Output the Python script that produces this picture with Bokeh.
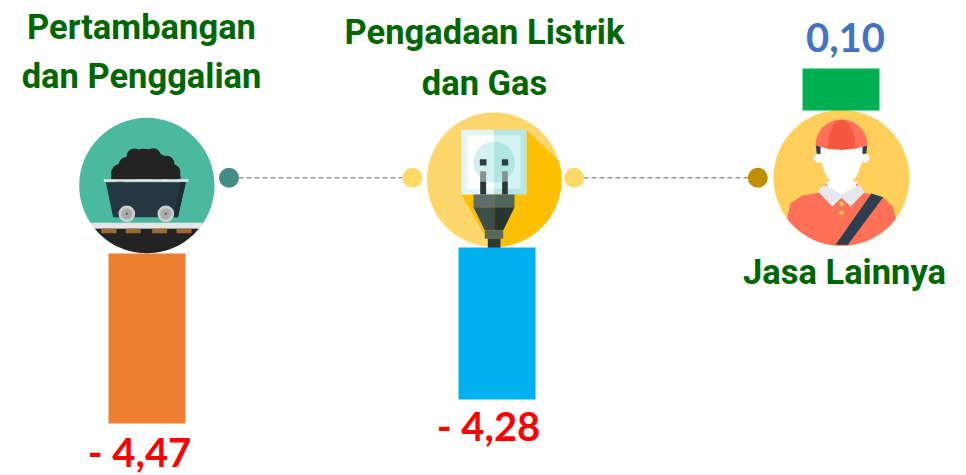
from bokeh.plotting import figure
from bokeh.models import Range1d
from bokeh.core.properties import value
from bokeh.embed import file_html
from bokeh.resources import INLINE
import numpy as np

# ---- chart values
sector_lines = [["Pertambangan", "dan Penggalian"], ["Pengadaan Listrik", "dan Gas"], ["Jasa Lainnya"]]
value_labels = ["- 4,47", "- 4,28", "0,10"]
bar_lengths = [170, 152, 42]

# ---- layout (page pixels)
bar_left = [108, 458, 802]
bar_start = [253, 247, 68]
bar_colors = ["#ED7D31", "#00B0F0", "#00B050"]
W, H = 966, 475
OX, OY = 0, 0

p = figure(width=W, height=H, output_backend="svg", toolbar_location=None,
           x_range=Range1d(OX, OX + W), y_range=Range1d(OY + H, OY),
           min_border=0, min_border_left=0, min_border_right=0, min_border_top=0, min_border_bottom=0)
p.axis.visible = False
p.grid.visible = False
p.outline_line_color = None
p.background_fill_color = "white"
p.border_fill_color = "white"


def mapper(ox, oy):
    return lambda pts: ([ox + a / 3 for a, b in pts], [oy + b / 3 for a, b in pts])


def poly(m, pts, color):
    xs, ys = m(pts)
    p.patch(xs, ys, fill_color=color, line_color=None)


def disc(x, y, r, color):
    p.circle([x], [y], radius=r, fill_color=color, line_color=None)


def arc(cx, cy, r, a0, a1, n=60):
    t = np.radians(np.linspace(a0, a1, n))
    return [(cx + r * np.cos(v), cy + r * np.sin(v)) for v in t]


# connectors
for x0, x1 in [(238, 402), (583, 748)]:
    p.line([x0, x1], [177.3, 177.3], line_color="#707070", line_width=1, line_dash="5 3")
for x, c in [(228.5, "#458D84"), (412, "#FFD966"), (573.7, "#FFD966"), (757.3, "#BF8F00")]:
    disc(x, 177.3, 10, c)

# ---- icon 1: mine cart (zoom coordinates around 60,100)
m1 = mapper(60, 100)
cx, cy, r = 259, 255, 203
disc(60 + cx / 3, 100 + cy / 3, r / 3, "#4BB9A0")


def chord(y0, y1):
    a0 = np.degrees(np.arcsin((y0 - cy) / r))
    a1 = np.degrees(np.arcsin((y1 - cy) / r))
    return arc(cx, cy, r, a0, a1, 20) + arc(cx, cy, r, 180 - a1, 180 - a0, 20)


poly(m1, chord(367, 385), "#E6E6E6")
poly(m1, arc(cx, cy, r, np.degrees(np.arcsin((385 - cy) / r)), 180 - np.degrees(np.arcsin((385 - cy) / r))), "#232323")
for a, b in [(122, 168), (196, 241), (275, 320), (348, 393)]:
    poly(m1, [(a, 385), (b, 385), (b, 398), (a, 398)], "#A0692F")
for x, y, rr in [(180, 218, 28), (200, 195, 26), (222, 168, 24), (278, 166, 23), (318, 190, 24), (250, 190, 45),
                 (335, 216, 25), (290, 200, 40), (210, 212, 30)]:
    disc(60 + x / 3, 100 + y / 3, rr / 3, "#232323")
poly(m1, [(152, 236), (360, 236), (360, 225), (152, 225)], "#232323")
poly(m1, [(136, 245), (376, 245), (352, 350), (158, 350)], "#253740")
poly(m1, [(360, 245), (376, 245), (352, 350), (338, 350)], "#1F2E36")
poly(m1, [(130, 236), (384, 236), (384, 244), (130, 244)], "#E6E6E6")
for x in (199, 316):
    disc(60 + x / 3, 100 + 340 / 3, 25 / 3, "#CFCFCF")
    disc(60 + x / 3, 100 + 340 / 3, 17 / 3, "#ABABAB")
    disc(60 + x / 3, 100 + 340 / 3, 1.0, "#444444")

# ---- icon 2: plug (zoom coordinates around 400,100)
m2 = mapper(400, 100)
cx2, cy2, r2 = 281, 238, 202
disc(400 + cx2 / 3, 100 + cy2 / 3, r2 / 3, "#FDD76B")
poly(m2, [(378, 88)] + arc(cx2, cy2, r2, -16, 85) + [(250, 400), (183, 282), (378, 282)], "#FCBF04")
poly(m2, [(183, 88), (281, 88), (281, 282), (183, 282)], "#E4F6F6")
poly(m2, [(281, 88), (378, 88), (378, 282), (281, 282)], "#B5E8E3")
poly(m2, [(201, 105), (281, 105), (281, 265), (201, 265)], "#FFFFFF")
poly(m2, [(281, 105), (360, 105), (360, 265), (281, 265)], "#D5F2F2")
poly(m2, arc(281, 185, 62, 90, 270), "#D3F1F1")
poly(m2, arc(281, 185, 62, -90, 90), "#B0E6E1")
for a, b in [(238, 258), (304, 323)]:
    poly(m2, [(a, 176), (b, 176), (b, 195), (a, 195)], "#2F3F3F")
    poly(m2, [(a + 1, 212), (b - 1, 212), (b - 1, 243), (a + 1, 243)], "#839490")
    poly(m2, [(a + 1, 243), (b - 1, 243), (b - 1, 282), (a + 1, 282)], "#2B3836")
poly(m2, [(219, 282), (281, 282), (281, 320), (219, 320)], "#5F6D6A")
poly(m2, [(281, 282), (342, 282), (342, 320), (281, 320)], "#4C665F")
poly(m2, [(219, 320), (281, 320), (281, 390), (253, 390)], "#3C4D4A")
poly(m2, [(281, 320), (342, 320), (308, 390), (281, 390)], "#273633")
poly(m2, [(253, 390), (308, 390), (308, 415), (253, 415)], "#57665F")
poly(m2, [(262, 415), (300, 415), (300, 445), (262, 445)], "#2D3A38")

# ---- icon 3: worker (zoom coordinates around 740,60)
m3 = mapper(740, 60)
cx3, cy3, r3 = 303, 352, 204
disc(740 + cx3 / 3, 60 + cy3 / 3, r3 / 3, "#FFCF5C")
poly(m3, [(141, 465), (150, 428), (185, 405), (235, 397), (372, 397), (430, 412), (458, 440), (466, 475)]
     + arc(cx3, cy3, r3, 35, 143), "#FF7058")
poly(m3, [(393, 399), (428, 410), (322, 553), (285, 553)], "#2C3E50")
poly(m3, [(245, 380), (262, 368), (345, 368), (360, 380), (303, 405)], "#F4593F")
poly(m3, [(233, 393), (248, 375), (358, 375), (372, 395), (330, 438), (303, 412), (275, 438)], "#E5E8EC")
poly(m3, [(256, 362), (350, 362), (345, 378), (303, 402), (262, 378)], "#FFFFFF")
for y in (430, 457):
    disc(740 + 303 / 3, 60 + y / 3, 2.2, "#FFCF5C")
# hair, ears, face
poly(m3, [(226, 255), (242, 255), (242, 302), (230, 290)], "#2C3E50")
poly(m3, [(380, 255), (364, 255), (364, 302), (376, 290)], "#2C3E50")
disc(740 + 233 / 3, 60 + 293 / 3, 4.5, "#FFFFFF")
disc(740 + 373 / 3, 60 + 293 / 3, 4.5, "#FFFFFF")
poly(m3, [(240, 255), (366, 255), (366, 300), (350, 345), (325, 375), (303, 381), (281, 375), (256, 345), (240, 300)], "#FFFFFF")
# cap
poly(m3, arc(303, 255, 78, 180, 360) + [(381, 255), (340, 266), (303, 268), (266, 266), (225, 255)], "#FF7058")
poly(m3, [(262, 262), (265, 225), (280, 190), (303, 177), (326, 190), (341, 225), (344, 262), (303, 268)], "#F4593F")

# bars
p.quad(left=bar_left, right=[x + 77 for x in bar_left], top=bar_start,
       bottom=[s + l for s, l in zip(bar_start, bar_lengths)], fill_color=bar_colors, line_color=None)

# sector labels
FONT = "Roboto"
GREEN = "#006600"
name_x = [141, 484, 844]
name_y = [[26, 75], [31, 82], [271]]
for x, lines, ys in zip(name_x, sector_lines, name_y):
    p.text([x] * len(lines), ys, text=lines, text_font=value(FONT), text_font_style="bold",
           text_font_size="34.5px", text_color=GREEN, text_align="center", text_baseline="middle")

# value labels
val_x = [139, 488, 845]
val_y = [451, 425, 37]
val_c = ["#FF0000", "#FF0000", "#4472C4"]
for x, y, t, c in zip(val_x, val_y, value_labels, val_c):
    p.text([x], [y], text=[t], text_font=value("Lato"), text_font_style="bold",
           text_font_size="40px", text_color=c, text_align="center", text_baseline="middle")

open("out.html", "w").write(file_html(p, INLINE))
